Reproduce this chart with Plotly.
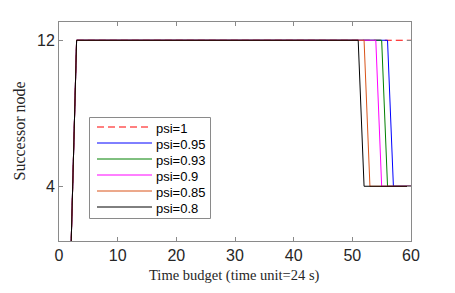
import plotly.graph_objects as go

names = ["psi=1", "psi=0.95", "psi=0.93", "psi=0.9", "psi=0.85", "psi=0.8"]
colors = ["#FF0000", "#0000FF", "#008000", "#FF00FF", "#D95319", "#000000"]
dashes = ["7px,4px", "solid", "solid", "solid", "solid", "solid"]

# breakpoints of each series (time budget, successor node)
x_series = [
    [0, 2, 3, 60],
    [0, 2, 3, 56, 57, 60],
    [0, 2, 3, 55, 56, 60],
    [0, 2, 3, 54, 55, 60],
    [0, 2, 3, 52, 53, 60],
    [0, 2, 3, 51, 52, 60],
]
y_series = [
    [0, 0, 12, 12],
    [0, 0, 12, 12, 4, 4],
    [0, 0, 12, 12, 4, 4],
    [0, 0, 12, 12, 4, 4],
    [0, 0, 12, 12, 4, 4],
    [0, 0, 12, 12, 4, 4],
]

x_ticks = [0, 10, 20, 30, 40, 50, 60]
y_ticks = [4, 12]
x_title = "Time budget (time unit=24 s)"
y_title = "Successor node"

# page body adds an 8px offset, so the figure is drawn 8px smaller
OFF = 8
W, H = 455 - OFF, 293 - OFF
L, R, T, B = 59 - OFF, 44, 22 - OFF, 52
PW, PH = W - L - R, H - T - B


def px(x):
    return (x - OFF - L) / PW


def py(y):
    return (H + OFF - B - y) / PH


fig = go.Figure()
for n, c, d, xs, ys in zip(names, colors, dashes, x_series, y_series):
    fig.add_trace(go.Scatter(x=xs, y=ys, mode="lines", name=n, showlegend=False,
                             line=dict(color=c, width=1, dash=d)))

axis_common = dict(showgrid=False, zeroline=False, showline=True, mirror="ticks",
                   linecolor="#8a8a8a", linewidth=1, ticks="inside", ticklen=4,
                   tickcolor="#8a8a8a", automargin=False,
                   tickfont=dict(family="Liberation Sans, Arial", size=16, color="#262626"))

# custom legend (MATLAB-like compact layout)
shapes = [dict(type="rect", xref="paper", yref="paper", layer="above",
               x0=px(89.5), x1=px(210.5), y0=py(218.5), y1=py(117.5),
               line_color="#8a8a8a", line_width=1, fillcolor="white")]
annotations = []
for i in range(len(names)):
    yy = 127 + 16 * i
    shapes.append(dict(type="line", xref="paper", yref="paper", layer="above",
                       x0=px(97), x1=px(152), y0=py(yy), y1=py(yy),
                       line_color=colors[i], line_width=1, line_dash=dashes[i],
                       opacity=1))
    annotations.append(dict(text=names[i], xref="paper", yref="paper", x=px(154), y=py(yy + 1),
                            xanchor="left", yanchor="middle", showarrow=False,
                            font=dict(family="Liberation Sans, Arial", size=13, color="#000000")))

serif = dict(family="Liberation Serif, Georgia, serif", color="#262626")
annotations.append(dict(text=x_title, xref="paper", yref="paper", x=px(234), y=py(275),
                        xanchor="center", yanchor="middle", showarrow=False,
                        font=dict(size=14.5, **serif)))
annotations.append(dict(text=y_title, xref="paper", yref="paper", x=px(18.5), y=py(131),
                        xanchor="center", yanchor="middle", showarrow=False, textangle=-90,
                        font=dict(size=16, **serif)))

fig.update_layout(
    width=W, height=H,
    margin=dict(l=L, r=R, t=T, b=B),
    paper_bgcolor="white", plot_bgcolor="white",
    xaxis=dict(range=[0, 60], tickvals=x_ticks, **axis_common),
    yaxis=dict(range=[1, 13], tickvals=y_ticks, **axis_common),
    shapes=shapes,
    annotations=annotations,
    showlegend=False,
)

fig.write_html("out.html")
